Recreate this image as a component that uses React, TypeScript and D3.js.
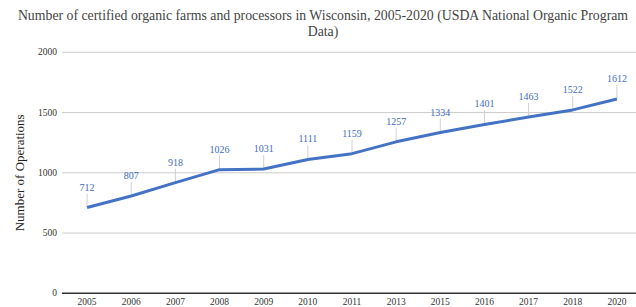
import React, { useEffect, useRef } from "react";
import * as d3 from "d3";

const years = ["2005", "2006", "2007", "2008", "2009", "2010", "2011", "2013", "2015", "2016", "2017", "2018", "2020"];
const operations = [712, 807, 918, 1026, 1031, 1111, 1159, 1257, 1334, 1401, 1463, 1522, 1612];
const yTicks = [0, 500, 1000, 1500, 2000];

const W = 636;
const H = 307;

const App = () => {
  const svgRef = useRef<SVGSVGElement>(null);

  useEffect(() => {
    const svg = d3.select(svgRef.current);
    svg.selectAll("*").remove();

    const font = "'Liberation Serif', 'Times New Roman', serif";
    const x = d3.scaleBand<string>().domain(years).range([65, 639]);
    const y = d3.scaleLinear().domain([0, 2000]).range([293.3, 52.3]);
    const cx = (d: string) => (x(d) as number) + x.bandwidth() / 2;

    // titulo
    const title = svg.append("text")
      .attr("text-anchor", "middle")
      .attr("font-family", font)
      .attr("font-size", 13.8)
      .attr("fill", "#444");
    title.append("tspan").attr("x", 323).attr("y", 20)
      .text("Number of certified organic farms and processors in Wisconsin, 2005-2020 (USDA National Organic Program");
    title.append("tspan").attr("x", 323).attr("y", 36).text("Data)");

    // rejilla
    svg.append("g")
      .selectAll("line")
      .data(yTicks.filter((t) => t > 0))
      .enter()
      .append("line")
      .attr("x1", 62)
      .attr("x2", W)
      .attr("y1", (d) => y(d))
      .attr("y2", (d) => y(d))
      .attr("stroke", "#cccccc")
      .attr("stroke-width", 1);

    // eje Y
    svg.append("g")
      .selectAll("text")
      .data(yTicks)
      .enter()
      .append("text")
      .attr("x", 57)
      .attr("y", (d) => y(d))
      .attr("dy", "0.32em")
      .attr("text-anchor", "end")
      .attr("font-family", font)
      .attr("font-size", 9.5)
      .attr("fill", "#333")
      .text((d) => d);

    svg.append("text")
      .attr("transform", `translate(19,${(y(0) + y(2000)) / 2}) rotate(-90)`)
      .attr("text-anchor", "middle")
      .attr("dy", "0.35em")
      .attr("font-family", font)
      .attr("font-size", 13)
      .attr("fill", "#222")
      .text("Number of Operations");

    // eje X
    svg.append("line")
      .attr("x1", 62)
      .attr("x2", W)
      .attr("y1", y(0))
      .attr("y2", y(0))
      .attr("stroke", "#333")
      .attr("stroke-width", 1.5);

    svg.append("g")
      .selectAll("text")
      .data(years)
      .enter()
      .append("text")
      .attr("x", (d) => cx(d))
      .attr("y", 305)
      .attr("text-anchor", "middle")
      .attr("font-family", font)
      .attr("font-size", 9.5)
      .attr("fill", "#333")
      .text((d) => d);

    // líneas guía de etiquetas
    svg.append("g")
      .selectAll("line")
      .data(operations)
      .enter()
      .append("line")
      .attr("x1", (_, i) => cx(years[i]))
      .attr("x2", (_, i) => cx(years[i]))
      .attr("y1", (d) => y(d) - 14)
      .attr("y2", (d) => y(d))
      .attr("stroke", "#d0d0d0")
      .attr("stroke-width", 1);

    // línea de datos
    const line = d3.line<number>()
      .x((_, i) => cx(years[i]))
      .y((d) => y(d));

    svg.append("path")
      .datum(operations)
      .attr("d", line)
      .attr("fill", "none")
      .attr("stroke", "#4472c4")
      .attr("stroke-width", 3)
      .attr("stroke-linejoin", "round");

    // etiquetas de valores
    svg.append("g")
      .selectAll("text")
      .data(operations)
      .enter()
      .append("text")
      .attr("x", (_, i) => cx(years[i]))
      .attr("y", (d) => y(d) - 17)
      .attr("text-anchor", "middle")
      .attr("font-family", font)
      .attr("font-size", 10)
      .attr("fill", "#3f6cc4")
      .text((d) => d);
  }, []);

  return (
    <svg
      ref={svgRef}
      width={W}
      height={H}
      style={{ position: "absolute", left: 0, top: 0, background: "#fff" }}
    ></svg>
  );
};

export default App;
